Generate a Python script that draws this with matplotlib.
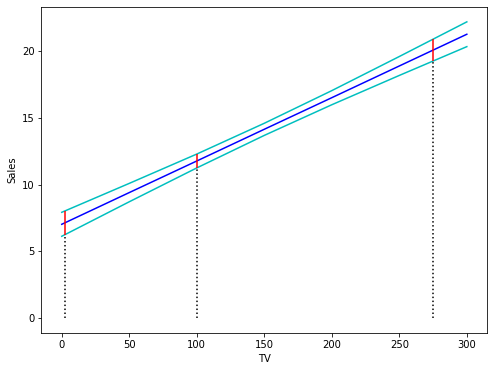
import numpy as np
import matplotlib
matplotlib.use("Agg")
import matplotlib.pyplot as plt

# fitted line and confidence band, read at a few TV values
tv_grid = [0, 50, 100, 150, 200, 250, 300]
sales_fit = [7.03, 9.41, 11.78, 14.16, 16.53, 18.91, 21.29]
band_upper = [7.93, 10.10, 12.30, 14.61, 17.06, 19.62, 22.22]
band_lower = [6.13, 8.72, 11.26, 13.70, 16.00, 18.20, 20.36]

# selected points with their interval
tv_points = [2.5, 100, 275]
ci_upper = [8.04, 12.30, 20.91]
ci_lower = [6.26, 11.26, 19.28]

fig, ax = plt.subplots(figsize=(494 / 72, 371 / 72), dpi=72)
fig.subplots_adjust(left=0.084, right=0.986, top=0.981, bottom=0.103)

ax.plot(tv_grid, sales_fit, color="b")
ax.plot(tv_grid, band_upper, color="c")
ax.plot(tv_grid, band_lower, color="c")

for x, lo, hi in zip(tv_points, ci_lower, ci_upper):
    ax.vlines(x, lo, hi, color="r", linewidth=1.5)
    ax.vlines(x, 0, lo, color="k", linestyle=":", linewidth=1.5)

ax.set_xlabel("TV")
ax.set_ylabel("Sales")

plt.savefig("out.png", dpi=72)
